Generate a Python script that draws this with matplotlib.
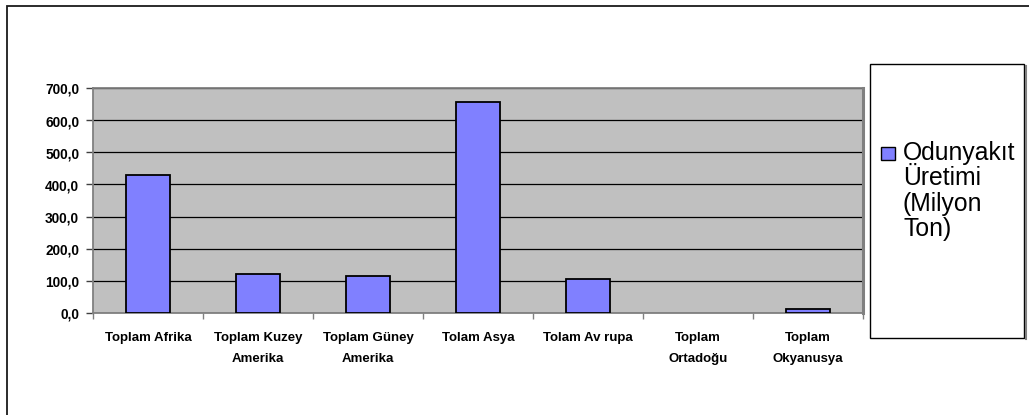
import matplotlib
matplotlib.use("Agg")
import matplotlib.pyplot as plt
from matplotlib.patches import Rectangle
from matplotlib.lines import Line2D

categories = ["Toplam Afrika", "Toplam Kuzey\nAmerika", "Toplam Güney\nAmerika",
              "Tolam Asya", "Tolam Av rupa", "Toplam\nOrtadoğu", "Toplam\nOkyanusya"]
# Ortadoğu has no value in the series
production = [431.0, 119.0, 113.0, 658.0, 105.0, float("nan"), 12.0]
series_name = "Odunyakıt Üretimi (Milyon Ton)"
y_ticks = [0, 100, 200, 300, 400, 500, 600, 700]
y_tick_labels = ["0,0", "100,0", "200,0", "300,0", "400,0", "500,0", "600,0", "700,0"]

W, H = 1029, 415
fig = plt.figure(figsize=(W / 100, H / 100), dpi=100)
fig.patch.set_facecolor("white")

def fx(px):
    return px / W

def fy(py):
    return 1 - py / H

# outer chart frame (only top and left edges fall inside the canvas)
fig.add_artist(Rectangle((fx(6.5), -0.2), 2, fy(6.5) + 0.2, transform=fig.transFigure,
                         fill=False, edgecolor="#1a1a1a", linewidth=1.3))

ax = fig.add_axes([fx(93), fy(312.5), fx(863) - fx(93), fy(88.5) - fy(312.5)])
ax.set_facecolor("#C0C0C0")

x = list(range(len(categories)))
ax.bar(x, production, width=0.4, color="#8080FF", edgecolor="black", linewidth=1.3, zorder=3)

ax.set_xlim(-0.5, len(categories) - 0.5)
ax.set_ylim(0, 700)

ax.set_yticks(y_ticks)
ax.set_yticklabels(y_tick_labels, fontfamily="Liberation Sans", fontweight="bold", fontsize=9.8)
ax.yaxis.grid(True, color="black", linewidth=0.9, zorder=1)
ax.set_axisbelow(True)

ax.set_xticks([i - 0.5 for i in range(len(categories) + 1)])
ax.set_xticklabels([])
ax.set_xticks(x, minor=True)
ax.set_xticklabels(categories, minor=True, fontfamily="Liberation Sans", fontweight="bold",
                   fontsize=9.5, linespacing=2.0, va="top")
ax.tick_params(axis="x", which="minor", length=0, pad=14)
ax.tick_params(axis="x", which="major", length=4, color="#808080", width=1)
ax.tick_params(axis="y", length=5, color="#404040", width=1, pad=5)

for side in ["left", "right", "top", "bottom"]:
    ax.spines[side].set_color("#808080")
    ax.spines[side].set_linewidth(1.3)
ax.spines["right"].set_linewidth(2.2)

# legend box
fig.add_artist(Rectangle((fx(869.5), fy(338)), fx(1024) - fx(869.5), fy(64) - fy(338),
                         transform=fig.transFigure, facecolor="white", edgecolor="black",
                         linewidth=1.0))
fig.add_artist(Line2D([fx(1025.5), fx(1025.5)], [fy(66), fy(339)], transform=fig.transFigure,
                      color="#808080", linewidth=1.5))
fig.add_artist(Rectangle((fx(881), fy(160)), fx(895) - fx(881), fy(147) - fy(160),
                         transform=fig.transFigure, facecolor="#8080FF", edgecolor="black",
                         linewidth=1.0))
legend_lines = ["Odunyakıt", "Üretimi", "(Milyon", "Ton)"]
for i, line in enumerate(legend_lines):
    fig.text(fx(903), fy(153 + 25.3 * i), line, fontfamily="Liberation Sans", fontsize=17.8,
             ha="left", va="center")

fig.savefig("out.png", dpi=100)
